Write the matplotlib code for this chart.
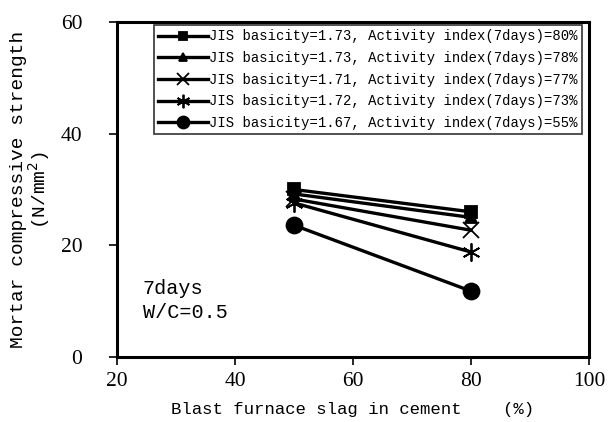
import matplotlib
matplotlib.use("Agg")
import matplotlib.pyplot as plt

slag = [50, 80]
labels = [
    "JIS basicity=1.73, Activity index(7days)=80%",
    "JIS basicity=1.73, Activity index(7days)=78%",
    "JIS basicity=1.71, Activity index(7days)=77%",
    "JIS basicity=1.72, Activity index(7days)=73%",
    "JIS basicity=1.67, Activity index(7days)=55%",
]
strength = [
    [30.0, 26.0],
    [29.2, 25.0],
    [28.3, 22.7],
    [27.6, 18.8],
    [23.6, 11.8],
]
markers = ["s", "^", "x", (6, 2, 0), "o"]
msizes = [8, 8.5, 12, 13, 11.5]

mono = "Liberation Mono"
serif = "Liberation Serif"

fig = plt.figure(figsize=(6.11, 4.22), dpi=100)
ax = fig.add_axes([0.1915, 0.154, 0.7725, 0.794])

for vals, lab, m, ms in zip(strength, labels, markers, msizes):
    ax.plot(slag, vals, color="black", lw=2.4, marker=m, ms=ms,
            mew=1.3, label=lab)

ax.set_xlim(20, 100)
ax.set_ylim(0, 60)
ax.set_xticks([20, 40, 60, 80, 100])
ax.set_yticks([0, 20, 40, 60])
for s in ax.spines.values():
    s.set_linewidth(2.2)
ax.tick_params(direction="out", length=6, width=1.2, labelsize=15.5)
ax.tick_params(axis="y", pad=19)
ax.tick_params(axis="x", pad=5)
for t in ax.get_xticklabels() + ax.get_yticklabels():
    t.set_fontfamily(serif)

ax.set_xlabel("Blast furnace slag in cement    (%)", fontfamily=mono,
              fontsize=12.5, labelpad=8)
ax.set_ylabel("Mortar compressive strength\n(N/mm$^2$)", fontfamily=mono,
              fontsize=14, labelpad=6, linespacing=0.95)

ax.text(0.055, 0.105, "7days\nW/C=0.5", transform=ax.transAxes,
        fontfamily=mono, fontsize=14.5, linespacing=1.35, va="bottom")

leg = ax.legend(loc="upper right", bbox_to_anchor=(0.985, 0.99),
                prop={"family": mono, "size": 10}, frameon=True,
                fancybox=False, edgecolor="black", handlelength=3.6,
                handletextpad=0.1, labelspacing=0.55, borderpad=0.3,
                borderaxespad=0, markerscale=0.75)
leg.get_frame().set_linewidth(1.2)

fig.savefig("out.png", dpi=100)
